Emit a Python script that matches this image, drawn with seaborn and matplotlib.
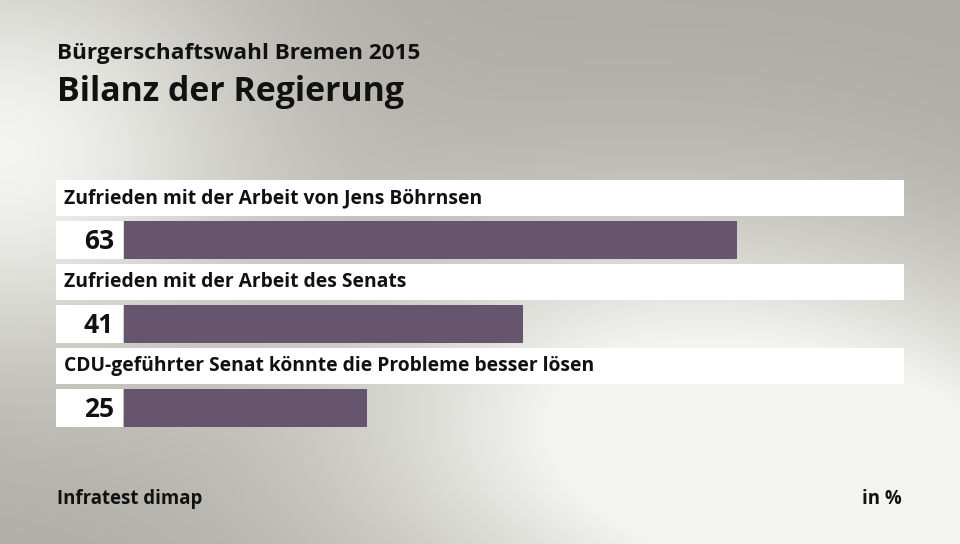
import numpy as np
import matplotlib
matplotlib.use("Agg")
import matplotlib.pyplot as plt
import seaborn as sns
import pandas as pd

categories = [
    "Zufrieden mit der Arbeit von Jens Böhrnsen",
    "Zufrieden mit der Arbeit des Senats",
    "CDU-geführter Senat könnte die Probleme besser lösen",
]
values = [63, 41, 25]
value_labels = ["63", "41", "25"]
subtitle = "Bürgerschaftswahl Bremen 2015"
title = "Bilanz der Regierung"
source = "Infratest dimap"
unit = "in %"

sns.set_theme(style="white")
plt.rcParams["font.family"] = ["Open Sans", "DejaVu Sans"]

W, H = 960, 544
fig = plt.figure(figsize=(W / 100, H / 100), dpi=100)

# background gradient
yy, xx = np.mgrid[0:H, 0:W].astype(float)
base = np.array([172, 171, 164]) / 255.0
light = np.array([243, 243, 239]) / 255.0
w1 = np.exp(-(((xx - 0) / 260) ** 2 + ((yy - 150) / 220) ** 2))
w2 = np.exp(-(((xx - 640) / 330) ** 2 + ((yy - 420) / 220) ** 2))
w3 = np.exp(-(((xx - 960) / 280) ** 2 + ((yy - 544) / 220) ** 2))
w = np.clip(w1 + w2 + 0.9 * w3, 0, 1)
img = base[None, None, :] * (1 - w[..., None]) + light[None, None, :] * w[..., None]
bg = fig.add_axes([0, 0, 1, 1], zorder=0)
bg.imshow(img, aspect="auto", extent=(0, W, H, 0))
bg.set_axis_off()

ax = fig.add_axes([0, 0, 1, 1], zorder=1)
ax.patch.set_alpha(0)
px = 9.73
df = pd.DataFrame({"cat": categories, "val": values})
sns.barplot(data=df, x="val", y="cat", orient="h", color="#67546f",
            width=38 / 84, saturation=1, linewidth=0, ax=ax, zorder=3)
pos = np.arange(len(categories))
x_left = (56 - 124) / px
x_right = (904 - 124) / px
ax.barh(pos - 0.5, x_right - x_left, left=x_left, height=36 / 84,
        color="white", linewidth=0, zorder=2)
ax.barh(pos, (123 - 56) / px, left=x_left, height=38 / 84, color="white",
        linewidth=0, zorder=2)
for i, (c, lab) in enumerate(zip(categories, value_labels)):
    ax.text((64 - 124) / px, i - 0.5, c, ha="left", va="center",
            fontsize=13.85, fontweight="bold", color="#111111", zorder=4)
    ax.text((114 - 124) / px, i + 0.02, lab, ha="right", va="center",
            fontsize=19, fontweight="bold", color="#111111", zorder=4)
ax.set_xlim(-124 / px, (W - 124) / px)
ax.set_ylim((H - 240) / 84, -240 / 84)
ax.set_axis_off()

fig.text(57 / W, 1 - 59 / H, subtitle, fontsize=16.2, fontweight="bold",
         color="#111111", va="baseline", ha="left")
fig.text(57 / W, 1 - 101 / H, title, fontsize=24.4, fontweight="bold",
         color="#111111", va="baseline", ha="left")
fig.text(57 / W, 1 - 504 / H, source, fontsize=13.4, fontweight="bold",
         color="#111111", va="baseline", ha="left")
fig.text(902 / W, 1 - 504 / H, unit, fontsize=13.4, fontweight="bold",
         color="#111111", va="baseline", ha="right")

fig.savefig("out.png", dpi=100)
